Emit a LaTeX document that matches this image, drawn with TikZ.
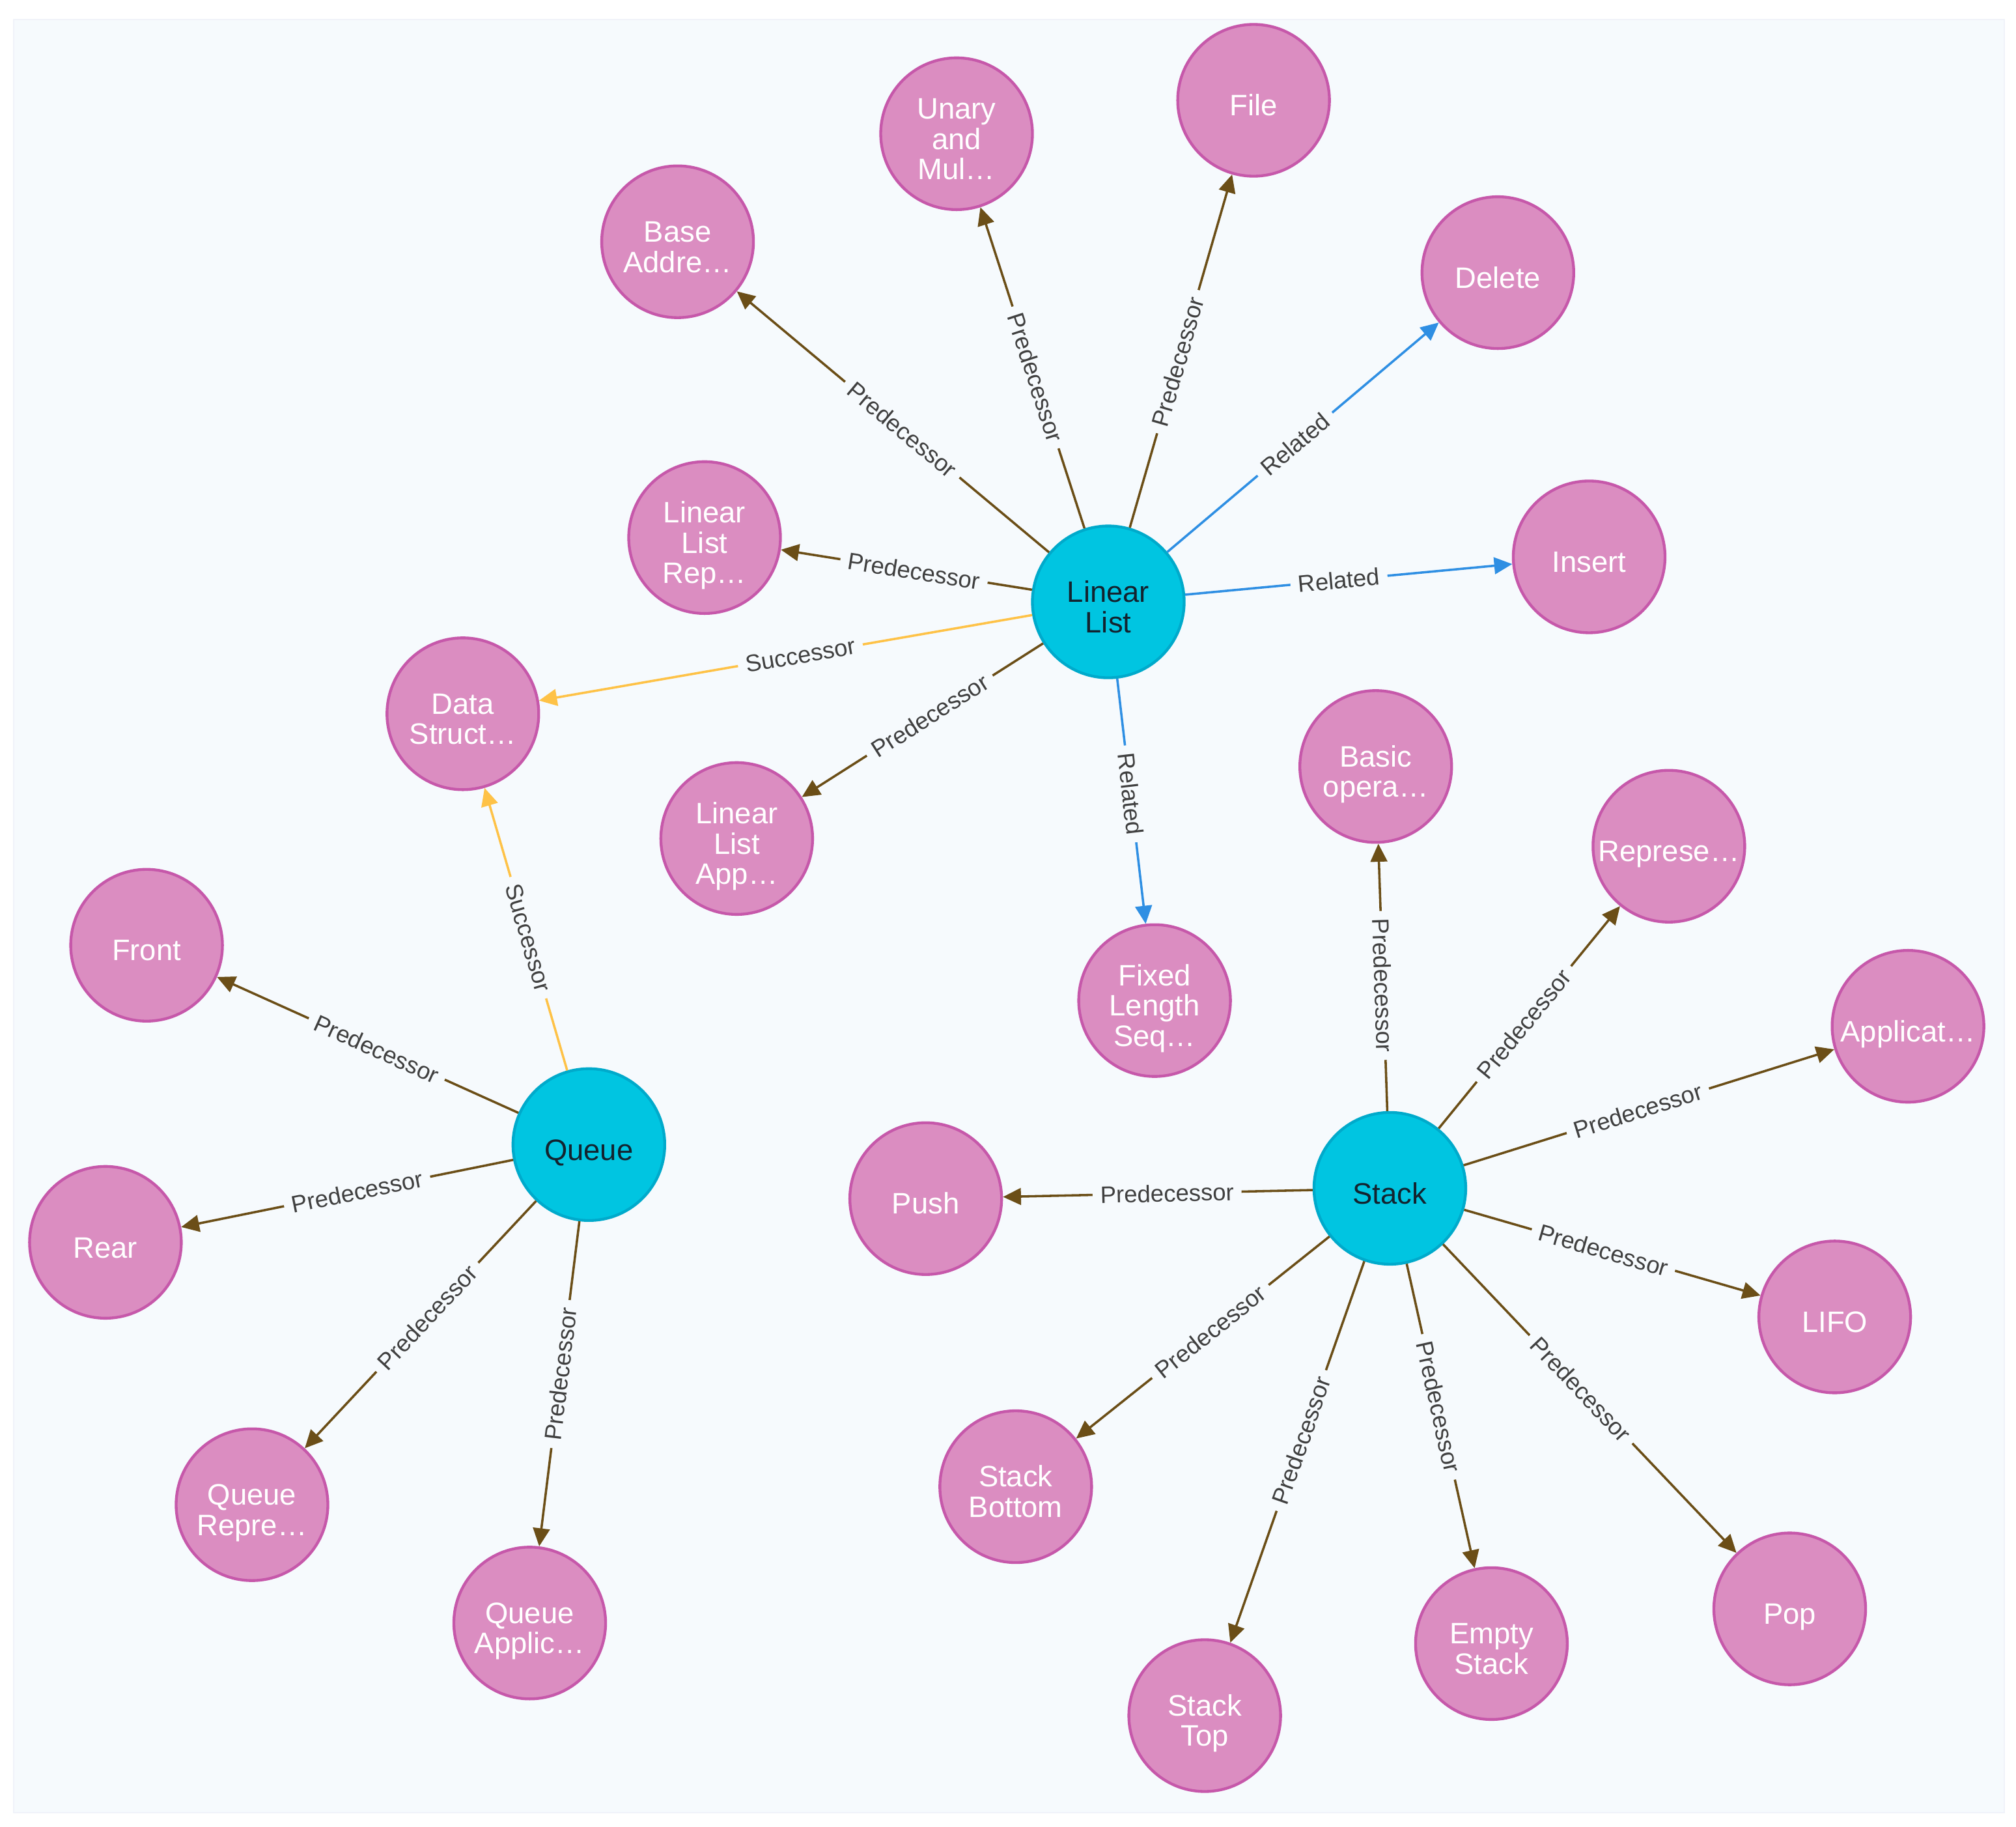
\documentclass[tikz,border=0pt]{standalone}
\usepackage{fontspec}
\setmainfont{Liberation Sans}
\usetikzlibrary{arrows.meta}
\definecolor{bgpanel}{HTML}{F6FAFD}
\definecolor{bgedge}{HTML}{F0F2F9}
\definecolor{pinkfill}{HTML}{DB8DC1}
\definecolor{pinkline}{HTML}{C658AA}
\definecolor{cyanfill}{HTML}{00C5E1}
\definecolor{cyanline}{HTML}{00AACB}
\definecolor{hubtext}{HTML}{13232F}
\definecolor{predc}{HTML}{6B4E17}
\definecolor{relc}{HTML}{2F8FE3}
\definecolor{succc}{HTML}{FEC247}
\definecolor{labc}{HTML}{404040}
\newcommand\topstrut{\rule{0pt}{24pt}}
\begin{document}
\begin{tikzpicture}[x=1pt,y=-1pt,
  circ/.style={circle, line width=2.2pt, minimum size=118pt, inner sep=0pt, align=center,
    font=\fontsize{23}{23.6}\selectfont, text depth=0pt},
  leaf/.style={circ, draw=pinkline, fill=pinkfill, text=white},
  hub/.style={circ, draw=cyanline, fill=cyanfill, text=hubtext},
  link/.style={line width=1.8pt, -{Triangle[length=14pt,width=13pt]}},
  pred/.style={link, draw=predc},
  rel/.style={link, draw=relc},
  succ/.style={link, draw=succc},
  elab/.style={sloped, pos=0.47, fill=bgpanel, text=labc, inner xsep=6pt, inner ysep=2pt, font=\fontsize{18.5}{20}\selectfont}
]
\useasboundingbox (0,0) rectangle (1568,1420.6);
\fill[white] (0,0) rectangle (1568,1420.6);
\draw[bgedge, fill=bgpanel, line width=1pt] (10.6,15.2) rectangle (1558.9,1409.5);

% hubs
\node[hub] (LL) at (862,468) {\topstrut Linear\\List};
\node[hub] (Q) at (458,890) {\topstrut Queue};
\node[hub] (S) at (1081,924) {\topstrut Stack};

% linear list neighbours
\node[leaf] (BA) at (527,188) {\topstrut Base\\Addre…};
\node[leaf] (UN) at (744,104) {\topstrut Unary\\and\\Mul…};
\node[leaf] (FI) at (975,78) {\topstrut File};
\node[leaf] (DE) at (1165,212) {\topstrut Delete};
\node[leaf] (IN) at (1236,433) {\topstrut Insert};
\node[leaf] (LR) at (548,418) {\topstrut Linear\\List\\Rep…};
\node[leaf] (DS) at (360,555) {\topstrut Data\\Struct…};
\node[leaf] (LA) at (573,652) {\topstrut Linear\\List\\App…};
\node[leaf] (FL) at (898,778) {\topstrut Fixed\\Length\\Seq…};

% stack neighbours
\node[leaf] (BO) at (1070,596) {\topstrut Basic\\opera…};
\node[leaf] (RE) at (1298,658) {\topstrut Represe…};
\node[leaf] (AP) at (1484,798) {\topstrut Applicat…};
\node[leaf] (PU) at (720,932) {\topstrut Push};
\node[leaf] (LI) at (1427,1024) {\topstrut LIFO};
\node[leaf] (PO) at (1392,1251) {\topstrut Pop};
\node[leaf] (ES) at (1160,1278) {\topstrut Empty\\Stack};
\node[leaf] (ST) at (937,1334) {\topstrut Stack\\Top};
\node[leaf] (SB) at (790,1156) {\topstrut Stack\\Bottom};

% queue neighbours
\node[leaf] (FR) at (114,735) {\topstrut Front};
\node[leaf] (RA) at (82,966) {\topstrut Rear};
\node[leaf] (QR) at (196,1170) {\topstrut Queue\\Repre…};
\node[leaf] (QA) at (412,1262) {\topstrut Queue\\Applic…};

% linear list edges
\draw[pred] (LL) -- node[elab]{Predecessor} (BA);
\draw[pred] (LL) -- node[elab]{Predecessor} (UN);
\draw[pred] (LL) -- node[elab]{Predecessor} (FI);
\draw[rel]  (LL) -- node[elab]{Related} (DE);
\draw[rel]  (LL) -- node[elab]{Related} (IN);
\draw[pred] (LL) -- node[elab]{Predecessor} (LR);
\draw[succ] (LL) -- node[elab]{Successor} (DS);
\draw[pred] (LL) -- node[elab]{Predecessor} (LA);
\draw[rel]  (LL) -- node[elab]{Related} (FL);

% queue edges
\draw[succ] (Q) -- node[elab]{Successor} (DS);
\draw[pred] (Q) -- node[elab]{Predecessor} (FR);
\draw[pred] (Q) -- node[elab]{Predecessor} (RA);
\draw[pred] (Q) -- node[elab]{Predecessor} (QR);
\draw[pred] (Q) -- node[elab]{Predecessor} (QA);

% stack edges
\draw[pred] (S) -- node[elab]{Predecessor} (BO);
\draw[pred] (S) -- node[elab]{Predecessor} (RE);
\draw[pred] (S) -- node[elab]{Predecessor} (AP);
\draw[pred] (S) -- node[elab]{Predecessor} (PU);
\draw[pred] (S) -- node[elab]{Predecessor} (LI);
\draw[pred] (S) -- node[elab]{Predecessor} (PO);
\draw[pred] (S) -- node[elab]{Predecessor} (ES);
\draw[pred] (S) -- node[elab]{Predecessor} (ST);
\draw[pred] (S) -- node[elab]{Predecessor} (SB);
\end{tikzpicture}
\end{document}
